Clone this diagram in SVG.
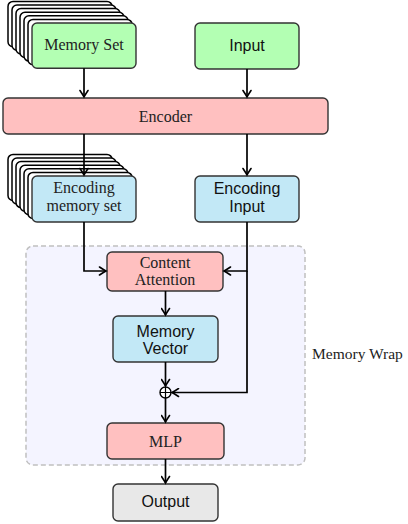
<svg xmlns="http://www.w3.org/2000/svg" width="408" height="524" viewBox="0 0 408 524">
<defs>
<style>
.box{stroke:#333;stroke-width:1.4}
.copy{fill:#fff;stroke:#000;stroke-width:1.5}
.green{fill:#b3ffb3}
.pink{fill:#ffc0c0}
.blue{fill:#c2e8f6}
.gray{fill:#e8e8e8}
.serif{font-family:"Liberation Serif","Times New Roman",serif;font-size:16px;fill:#222;text-anchor:middle}
.sans{font-family:"Liberation Sans",Arial,sans-serif;font-size:16px;fill:#111;text-anchor:middle}
.conn{fill:none;stroke:#000;stroke-width:1.7;marker-end:url(#arr)}
</style>
<marker id="arr" viewBox="-8 -5 10 10" refX="0" refY="0" markerWidth="10" markerHeight="10" markerUnits="userSpaceOnUse" orient="auto">
<path d="M-6.5,-4 Q-2,-1 0,0 Q-2,1 -6.5,4" fill="none" stroke="#000" stroke-width="1.6" stroke-linecap="round"/>
</marker>
</defs>
<rect width="408" height="524" fill="#fff"/>
<g id="memory-wrap">
<rect x="26" y="246" width="279" height="219" rx="7" fill="#f4f4ff" stroke="#c0c0c0" stroke-width="1.5" stroke-dasharray="5,3"/>
<text x="312" y="359" font-family="'Liberation Serif','Times New Roman',serif" font-size="15.5" fill="#222">Memory Wrap</text>
</g>
<g id="memory-set">
<rect class="copy" x="8" y="1.4" width="104" height="45.3" rx="5"/>
<rect class="copy" x="12" y="5" width="104" height="45.3" rx="5"/>
<rect class="copy" x="16" y="8.6" width="104" height="45.3" rx="5"/>
<rect class="copy" x="20" y="12.2" width="104" height="45.3" rx="5"/>
<rect class="copy" x="24" y="15.8" width="104" height="45.3" rx="5"/>
<rect class="copy" x="28" y="19.4" width="104" height="45.3" rx="5"/>
<rect class="box green" x="32" y="23" width="104" height="45.3" rx="5"/>
<text class="serif" x="84" y="50">Memory Set</text>
</g>
<g id="input">
<rect class="box green" x="195" y="23" width="104" height="46" rx="5"/>
<text class="sans" x="247" y="51">Input</text>
</g>
<g id="encoder">
<rect class="box pink" x="3" y="98" width="325" height="36" rx="5"/>
<text class="serif" x="165.5" y="121.5">Encoder</text>
</g>
<g id="encoding-memory-set">
<rect class="copy" x="8" y="154.4" width="104" height="46" rx="5"/>
<rect class="copy" x="12" y="158" width="104" height="46" rx="5"/>
<rect class="copy" x="16" y="161.6" width="104" height="46" rx="5"/>
<rect class="copy" x="20" y="165.2" width="104" height="46" rx="5"/>
<rect class="copy" x="24" y="168.8" width="104" height="46" rx="5"/>
<rect class="copy" x="28" y="172.4" width="104" height="46" rx="5"/>
<rect class="box blue" x="32" y="176" width="104" height="46" rx="5"/>
<text class="serif" x="84" y="193">Encoding</text>
<text class="serif" x="84" y="211">memory set</text>
</g>
<g id="encoding-input">
<rect class="box blue" x="195" y="176" width="104" height="46" rx="5"/>
<text class="sans" x="247" y="194">Encoding</text>
<text class="sans" x="247" y="212">Input</text>
</g>
<g id="content-attention">
<rect class="box pink" x="107" y="252" width="116" height="39" rx="5"/>
<text class="serif" x="165" y="268">Content</text>
<text class="serif" x="165" y="285">Attention</text>
</g>
<g id="memory-vector">
<rect class="box blue" x="113" y="316" width="105" height="46" rx="5"/>
<text class="sans" x="165.5" y="337">Memory</text>
<text class="sans" x="165.5" y="354">Vector</text>
</g>
<g id="sum">
<circle cx="165.5" cy="392.5" r="5.5" fill="#fff" stroke="#000" stroke-width="1.4"/>
<path d="M160,392.5 H171 M165.5,387 V398" stroke="#000" stroke-width="1.2"/>
</g>
<g id="mlp">
<rect class="box pink" x="107" y="423" width="117" height="36" rx="5"/>
<text class="serif" x="165.5" y="446.5">MLP</text>
</g>
<g id="output">
<rect class="box gray" x="113" y="484" width="105" height="37" rx="5"/>
<text class="sans" x="165.5" y="507">Output</text>
</g>
<g id="connectors">
<path class="conn" d="M84,68.3 V97"/>
<path class="conn" d="M247,69 V97"/>
<path class="conn" d="M84,134 V175"/>
<path class="conn" d="M247,134 V175"/>
<path class="conn" d="M84,222 V271 H106"/>
<path class="conn" d="M247,222 V271 H224"/>
<path class="conn" d="M247,271 V392.5 H172"/>
<path class="conn" d="M165.5,291 V315"/>
<path class="conn" d="M165.5,362 V386"/>
<path class="conn" d="M165.5,398 V422"/>
<path class="conn" d="M165.5,459 V483"/>
</g>
</svg>
